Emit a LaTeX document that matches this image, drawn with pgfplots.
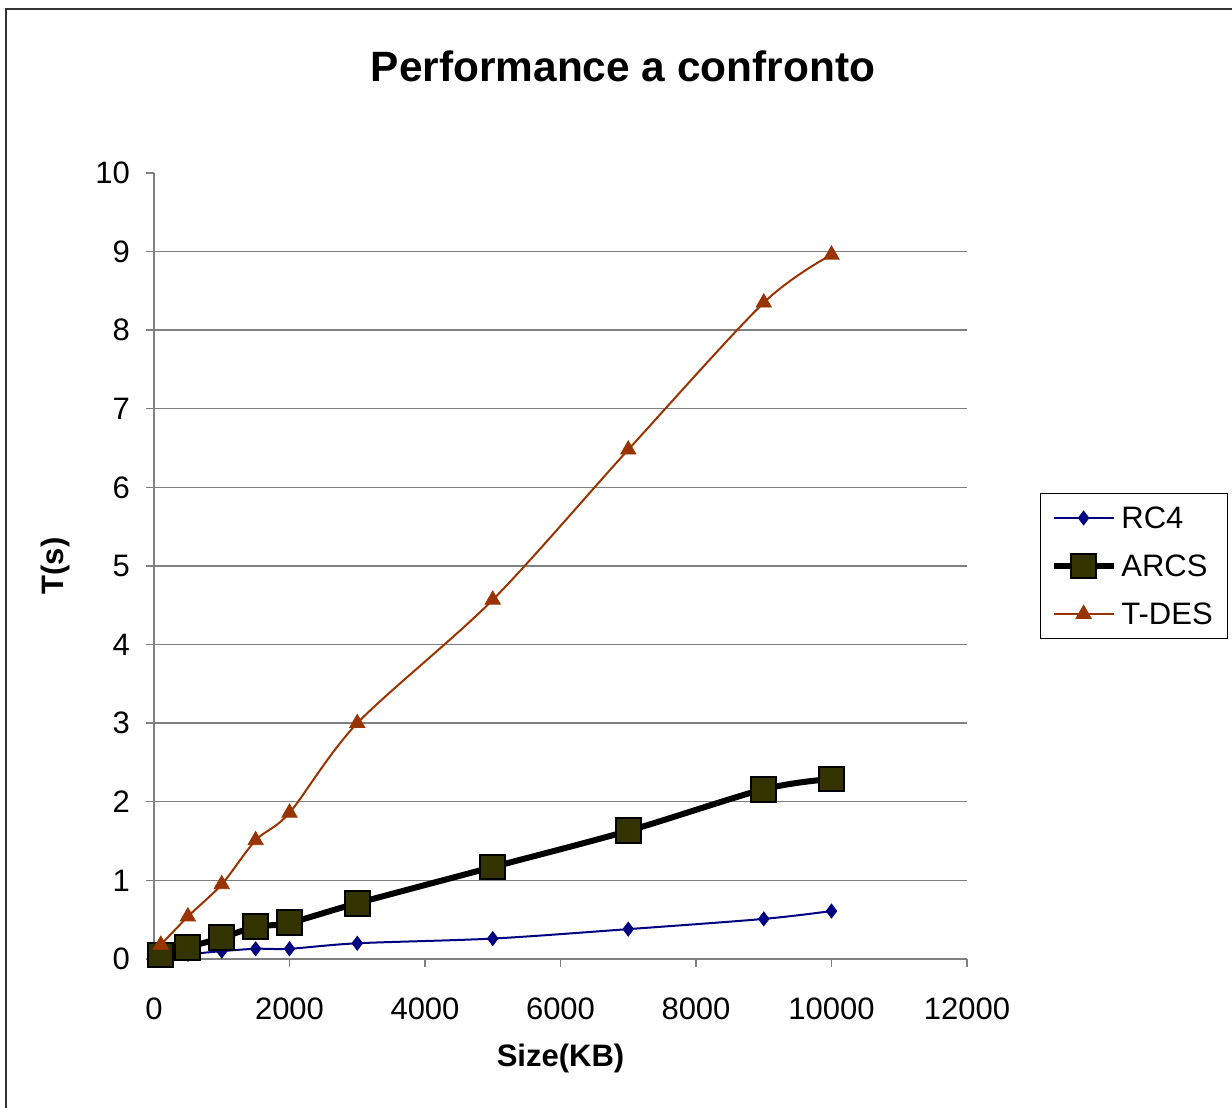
\documentclass[border=0pt]{standalone}
\usepackage{pgfplots}
\pgfplotsset{compat=1.18}
\usepackage{fontspec}
\setmainfont{Liberation Sans}
\definecolor{rcblue}{HTML}{000080}
\definecolor{arcsfill}{HTML}{333300}
\definecolor{tdes}{HTML}{993300}
\definecolor{axgray}{HTML}{808080}

\begin{document}
\begin{tikzpicture}
\begin{axis}[name=ax, at={(0,0)}, anchor=south west,
  scale only axis, width=406.5pt, height=393pt,
  xmin=0, xmax=12000, ymin=0, ymax=10,
  axis x line*=bottom, axis y line*=left,
  axis line style={axgray, line width=0.7pt},
  xtick={0,2000,...,12000}, ytick={0,1,...,10},
  scaled x ticks=false,
  /pgf/number format/1000 sep={},
  /pgf/number format/assume math mode=true,
  tick align=outside, major tick length=4pt,
  tick style={axgray, line width=0.7pt},
  extra y ticks={1,2,3,4,5,6,7,8,9}, extra y tick labels={},
  extra y tick style={grid=major, major tick length=0pt},
  grid style={axgray, line width=0.7pt},
  ticklabel style={font=\fontsize{15.5}{18}\selectfont},
  xticklabel style={yshift=-12pt},
  yticklabel style={xshift=-4.5pt},
  xlabel={\textbf{Size(KB)}}, ylabel={\textbf{T(s)}},
  x label style={at={(axis description cs:0.5,0)}, anchor=center, yshift=-49.5pt, font=\fontsize{15.5}{18}\selectfont},
  y label style={at={(axis description cs:0,0.5)}, anchor=center, yshift=49.5pt, font=\fontsize{15.5}{18}\selectfont},
  legend style={at={(1.0898,0.5)}, anchor=west, draw=black, line width=0.6pt,
    font=\fontsize{15.5}{18}\selectfont, row sep=9pt, inner xsep=5pt, inner ysep=4.75pt,
    nodes={inner xsep=2.4pt, inner ysep=2pt, text height=11pt, text depth=0pt}},
  legend cell align=left,
  legend image code/.code={\draw[mark repeat=2,mark phase=2] plot coordinates {(0pt,0pt) (15pt,0pt) (30pt,0pt)};},
]
\addplot[rcblue, line width=1pt, smooth, tension=0.5, mark=diamond*, mark size=3.5pt,
  mark options={solid, fill=rcblue, draw=rcblue, line width=0.4pt}]
  coordinates {(100,0.03) (500,0.06) (1000,0.10) (1500,0.13) (2000,0.13) (3000,0.20) (5000,0.26) (7000,0.38) (9000,0.51) (10000,0.61)};
\addlegendentry{RC4}
\addplot[black, line width=3pt, smooth, tension=0.5, mark=square*, mark size=6.2pt,
  mark options={solid, fill=arcsfill, draw=black, line width=1pt}]
  coordinates {(100,0.05) (500,0.15) (1000,0.27) (1500,0.41) (2000,0.46) (3000,0.71) (5000,1.17) (7000,1.63) (9000,2.16) (10000,2.29)};
\addlegendentry{ARCS}
\addplot[tdes, line width=1pt, smooth, tension=0.5, mark=triangle*, mark size=4.4pt,
  mark options={solid, fill=tdes, draw=tdes, line width=0.4pt}]
  coordinates {(100,0.18) (500,0.54) (1000,0.95) (1500,1.51) (2000,1.86) (3000,3.00) (5000,4.57) (7000,6.48) (9000,8.35) (10000,8.96)};
\addlegendentry{T-DES}
\end{axis}
\node[font=\fontsize{21.2}{25}\selectfont\bfseries] at ([shift={(234.5pt,446.5pt)}]ax.south west) {Performance a confronto};
\draw[line width=1pt, black!80] ([shift={(-74pt,-80pt)}]ax.south west) -- ([shift={(-74pt,475pt)}]ax.south west) -- ([shift={(545pt,475pt)}]ax.south west);
\pgfresetboundingbox
\path ([shift={(-77pt,-74.5pt)}]ax.south west) rectangle ([shift={(539pt,479.5pt)}]ax.south west);
\end{tikzpicture}
\end{document}
